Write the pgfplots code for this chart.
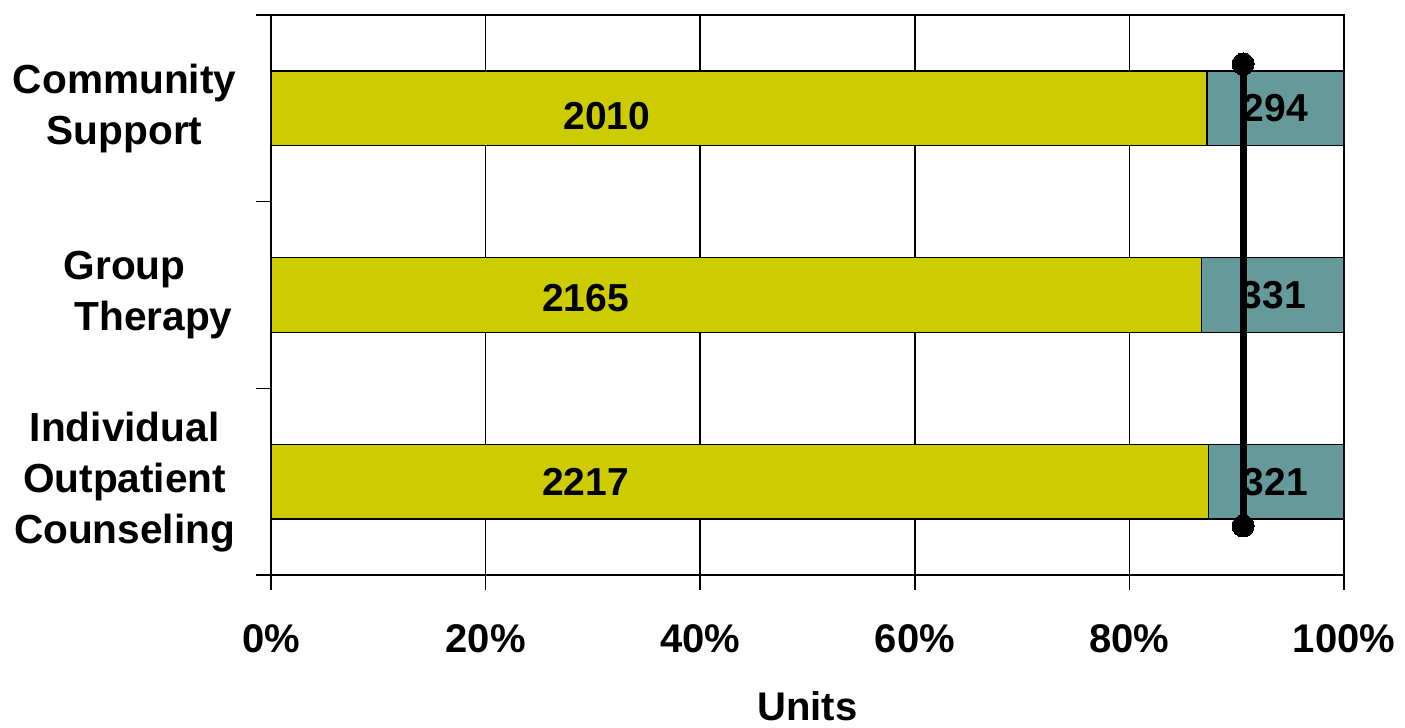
\documentclass[border=0pt]{standalone}
\usepackage{fontspec}
\setmainfont{Liberation Sans}
\usepackage{pgfplots}
\pgfplotsset{compat=1.18}
\usepackage{pgfplotstable}

\definecolor{barolive}{HTML}{CCCC00}
\definecolor{barteal}{HTML}{669999}

% units per service: a = first segment, b = second segment
\pgfplotstableread{
pos a b
2 2010 294
1 2165 331
0 2217 321
}\unitdata

\pgfplotsset{
  frame/.style={scale only axis, width=536.5pt, height=280pt,
    xmin=0, xmax=100, ymin=-0.5, ymax=2.5},
}
\newcommand{\bigbold}{\fontsize{20}{24}\selectfont\bfseries}

\begin{document}
\begin{tikzpicture}
\begin{axis}[frame, name=ax,
    xbar stacked, bar width=0.4,
    axis line style={black, line width=0.8pt},
    tick pos=left, tick align=outside,
    major tick length=7.5pt,
    tick style={black, line width=0.8pt},
    xtick={0,20,...,100},
    xticklabels={0\%,20\%,40\%,60\%,80\%,100\%},
    xmajorgrids, grid style={black, line width=0.8pt},
    xticklabel style={font=\bigbold, anchor=base, yshift=-31.3pt},
    ytick={-0.5,0.5,1.5,2.5}, yticklabels={},
    extra y ticks={0,1,2},
    extra y tick labels={{Individual\\Outpatient\\Counseling},{Group\\\hspace*{29pt}Therapy},{Community\\Support}},
    extra y tick style={major tick length=0pt},
    yticklabel style={font=\fontsize{20.3}{25.5}\selectfont\bfseries, align=center,
      text width=112pt, inner sep=0pt, anchor=east, xshift=-17pt},
    xlabel={Units},
    xlabel style={font=\bigbold, at={(axis description cs:0.5,0)}, anchor=base, yshift=-72.5pt},
  ]
  \addplot[fill=barolive, draw=black, line width=0.6pt]
    table[y=pos, x expr={100*\thisrow{a}/(\thisrow{a}+\thisrow{b})}] {\unitdata};
  \addplot[fill=barteal, draw=black, line width=0.6pt]
    table[y=pos, x expr={100*\thisrow{b}/(\thisrow{a}+\thisrow{b})}] {\unitdata};
\end{axis}

\begin{axis}[frame, hide axis, clip=false]
  % target line
  \addplot[black, line width=3.5pt, mark=*, mark size=5.5pt,
    mark options={line width=0pt, fill=black}]
    coordinates {(90.6,2.2375) (90.6,-0.2375)};
  % value labels
  \addplot[draw=none, mark=none, nodes near coords, point meta=explicit symbolic,
    nodes near coords style={anchor=center, font=\fontsize{19.5}{23}\selectfont\bfseries}]
    coordinates {(31.3,1.96) [2010] (29.3,0.985) [2165] (29.3,0) [2217]
                 (93.6,2) [294] (93.4,1) [331] (93.6,0) [321]};
\end{axis}

\pgfresetboundingbox
\path[use as bounding box] ([xshift=-135.5pt,yshift=-76pt]ax.south west)
  rectangle ([xshift=30.5pt,yshift=7.5pt]ax.north east);
\end{tikzpicture}
\end{document}
